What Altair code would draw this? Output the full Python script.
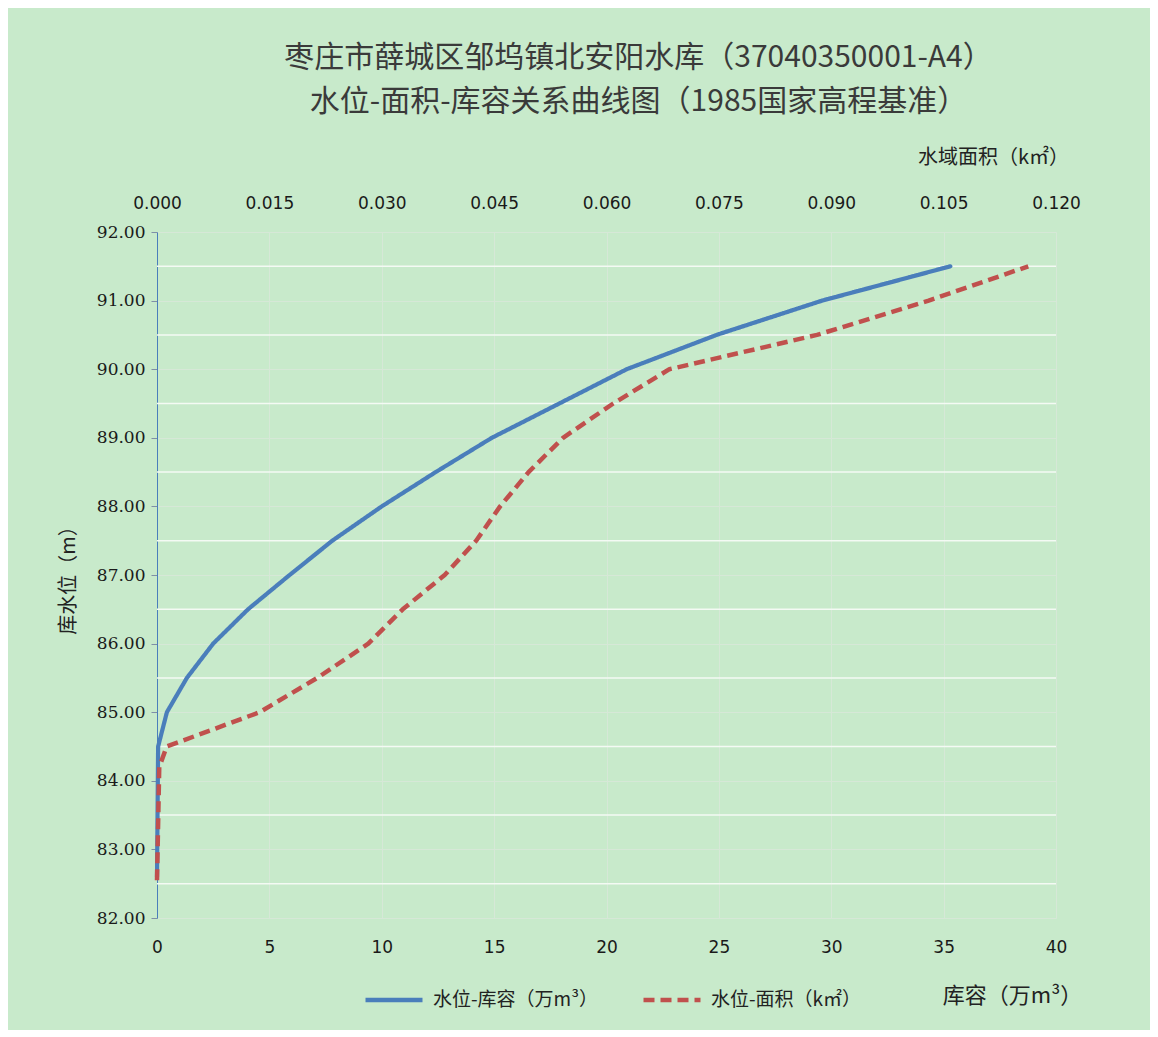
import altair as alt
import pandas as pd

# ---- data ----
stor_level = [82.6, 84.5, 85.0, 85.5, 86.0, 86.5, 87.0, 87.5, 88.0, 88.5, 89.0, 89.5, 90.0, 90.5, 91.0, 91.5]
storage = [0.0, 0.05, 0.44, 1.33, 2.5, 4.05, 5.9, 7.8, 10.0, 12.4, 14.9, 17.9, 20.9, 24.9, 29.6, 35.3]

area_level = [82.55, 84.2, 84.5, 85.0, 85.5, 86.0, 86.5, 87.0, 87.5, 88.0, 88.5, 89.0, 89.5, 90.0, 90.5, 91.0, 91.5]
area = [0.0, 0.0003, 0.0013, 0.0137, 0.0214, 0.0282, 0.0328, 0.0384, 0.0426, 0.0458, 0.0496, 0.0542, 0.0609, 0.0684, 0.0881, 0.1030, 0.1163]

series_names = ["水位-库容（万m³）", "水位-面积（k㎡）"]
series_colors = ["#4a7ebb", "#c0504d"]

y_ticks = [82, 83, 84, 85, 86, 87, 88, 89, 90, 91, 92]
half_levels = [82.5, 83.5, 84.5, 85.5, 86.5, 87.5, 88.5, 89.5, 90.5, 91.5]
x_ticks = [0, 5, 10, 15, 20, 25, 30, 35, 40]
x2_ticks = [0.0, 0.015, 0.03, 0.045, 0.06, 0.075, 0.09, 0.105, 0.12]

title_lines = ["枣庄市薛城区邹坞镇北安阳水库（37040350001-A4）", "水位-面积-库容关系曲线图（1985国家高程基准）"]

df_stor = pd.DataFrame({"level": stor_level, "value": storage, "series": series_names[0]})
df_area = pd.DataFrame({"level": area_level, "value": area, "series": series_names[1]})
df_half = pd.DataFrame({"level": half_levels})

CJK = "Noto Sans CJK SC"
BG = "#c8eacb"

y_scale = alt.Scale(domain=[82, 92], nice=False, zero=False)
color_scale = alt.Scale(domain=series_names, range=series_colors)
dash_scale = alt.Scale(domain=series_names, range=[[1, 0], [11, 6]])

y_axis = alt.Axis(
    values=y_ticks, format=".2f", title="库水位（m）", titleFont=CJK, titleFontSize=20,
    titleFontWeight="normal", titleColor="#222222", titleX=-89, titleAngle=270,
    titleBaseline="middle",
    labelFont="DejaVu Serif", labelFontSize=17, labelColor="#1a1a1a", labelPadding=6,
    domainColor="#4a7ebb", domainWidth=1, tickColor="#7f8fa6", tickSize=6,
    grid=True, gridColor="#d6e8d7", gridWidth=1,
)

legend = alt.Legend(
    title=None, orient="none", legendX=206, legendY=737, direction="horizontal",
    symbolType="stroke", symbolSize=3249, symbolStrokeWidth=4.5,
    labelFont=CJK, labelFontSize=19, labelColor="#222222", labelOffset=8,
    labelLimit=0, columnPadding=36,
)

half_rules = alt.Chart(df_half).mark_rule(color="#f4faf4", strokeWidth=1.5).encode(
    y=alt.Y("level:Q", scale=y_scale, axis=y_axis)
)

blue = alt.Chart(df_stor).mark_line(strokeWidth=4.2, strokeCap="round", strokeJoin="round").encode(
    x=alt.X("value:Q", scale=alt.Scale(domain=[0, 40], nice=False),
            axis=alt.Axis(orient="bottom", values=x_ticks, format="d", title="库容（万m³）",
                          titleFont=CJK, titleFontSize=22, titleFontWeight="normal", titleColor="#222222",
                          titleX=855, titleY=77, titleAlign="center", titleBaseline="middle",
                          labelFont="DejaVu Sans", labelFontSize=17, labelColor="#1a1a1a",
                          labelPadding=21, labelFlush=False, ticks=False, domain=False,
                          grid=True, gridColor="#d6e8d7", gridWidth=1)),
    y=alt.Y("level:Q", scale=y_scale, axis=y_axis),
    color=alt.Color("series:N", scale=color_scale, legend=legend),
    strokeDash=alt.StrokeDash("series:N", scale=dash_scale, legend=legend),
    order=alt.Order("level:Q"),
)

red = alt.Chart(df_area).mark_line(strokeWidth=4.5, strokeCap="butt", strokeJoin="round").encode(
    x=alt.X("value:Q", scale=alt.Scale(domain=[0, 0.12], nice=False),
            axis=alt.Axis(orient="top", values=x2_ticks, format=".3f", title="水域面积（k㎡）",
                          titleFont=CJK, titleFontSize=20, titleFontWeight="normal", titleColor="#222222",
                          titleX=836, titleY=-75, titleAlign="center", titleBaseline="middle",
                          labelFont="DejaVu Sans", labelFontSize=17, labelColor="#1a1a1a",
                          labelPadding=20, labelFlush=False, ticks=False, domain=False, grid=False)),
    y=alt.Y("level:Q", scale=y_scale, axis=y_axis),
    color=alt.Color("series:N", scale=color_scale, legend=legend),
    strokeDash=alt.StrokeDash("series:N", scale=dash_scale, legend=legend),
    order=alt.Order("level:Q"),
)

chart = alt.layer(half_rules, blue, red).resolve_scale(x="independent").properties(
    width=899,
    height=686,
    padding={"left": 149, "top": 224, "right": 94, "bottom": 112},
    autosize=alt.AutoSizeParams(type="none"),
    background=BG,
    title=alt.TitleParams(
        text=title_lines, font=CJK, fontSize=30, fontWeight="normal", color="#3a3a3a",
        anchor="middle", frame="group", dx=32, offset=30, lineHeight=44,
    ),
).configure_view(stroke=None)

chart.save("out.html", embed_options={"renderer": "svg", "actions": False})
